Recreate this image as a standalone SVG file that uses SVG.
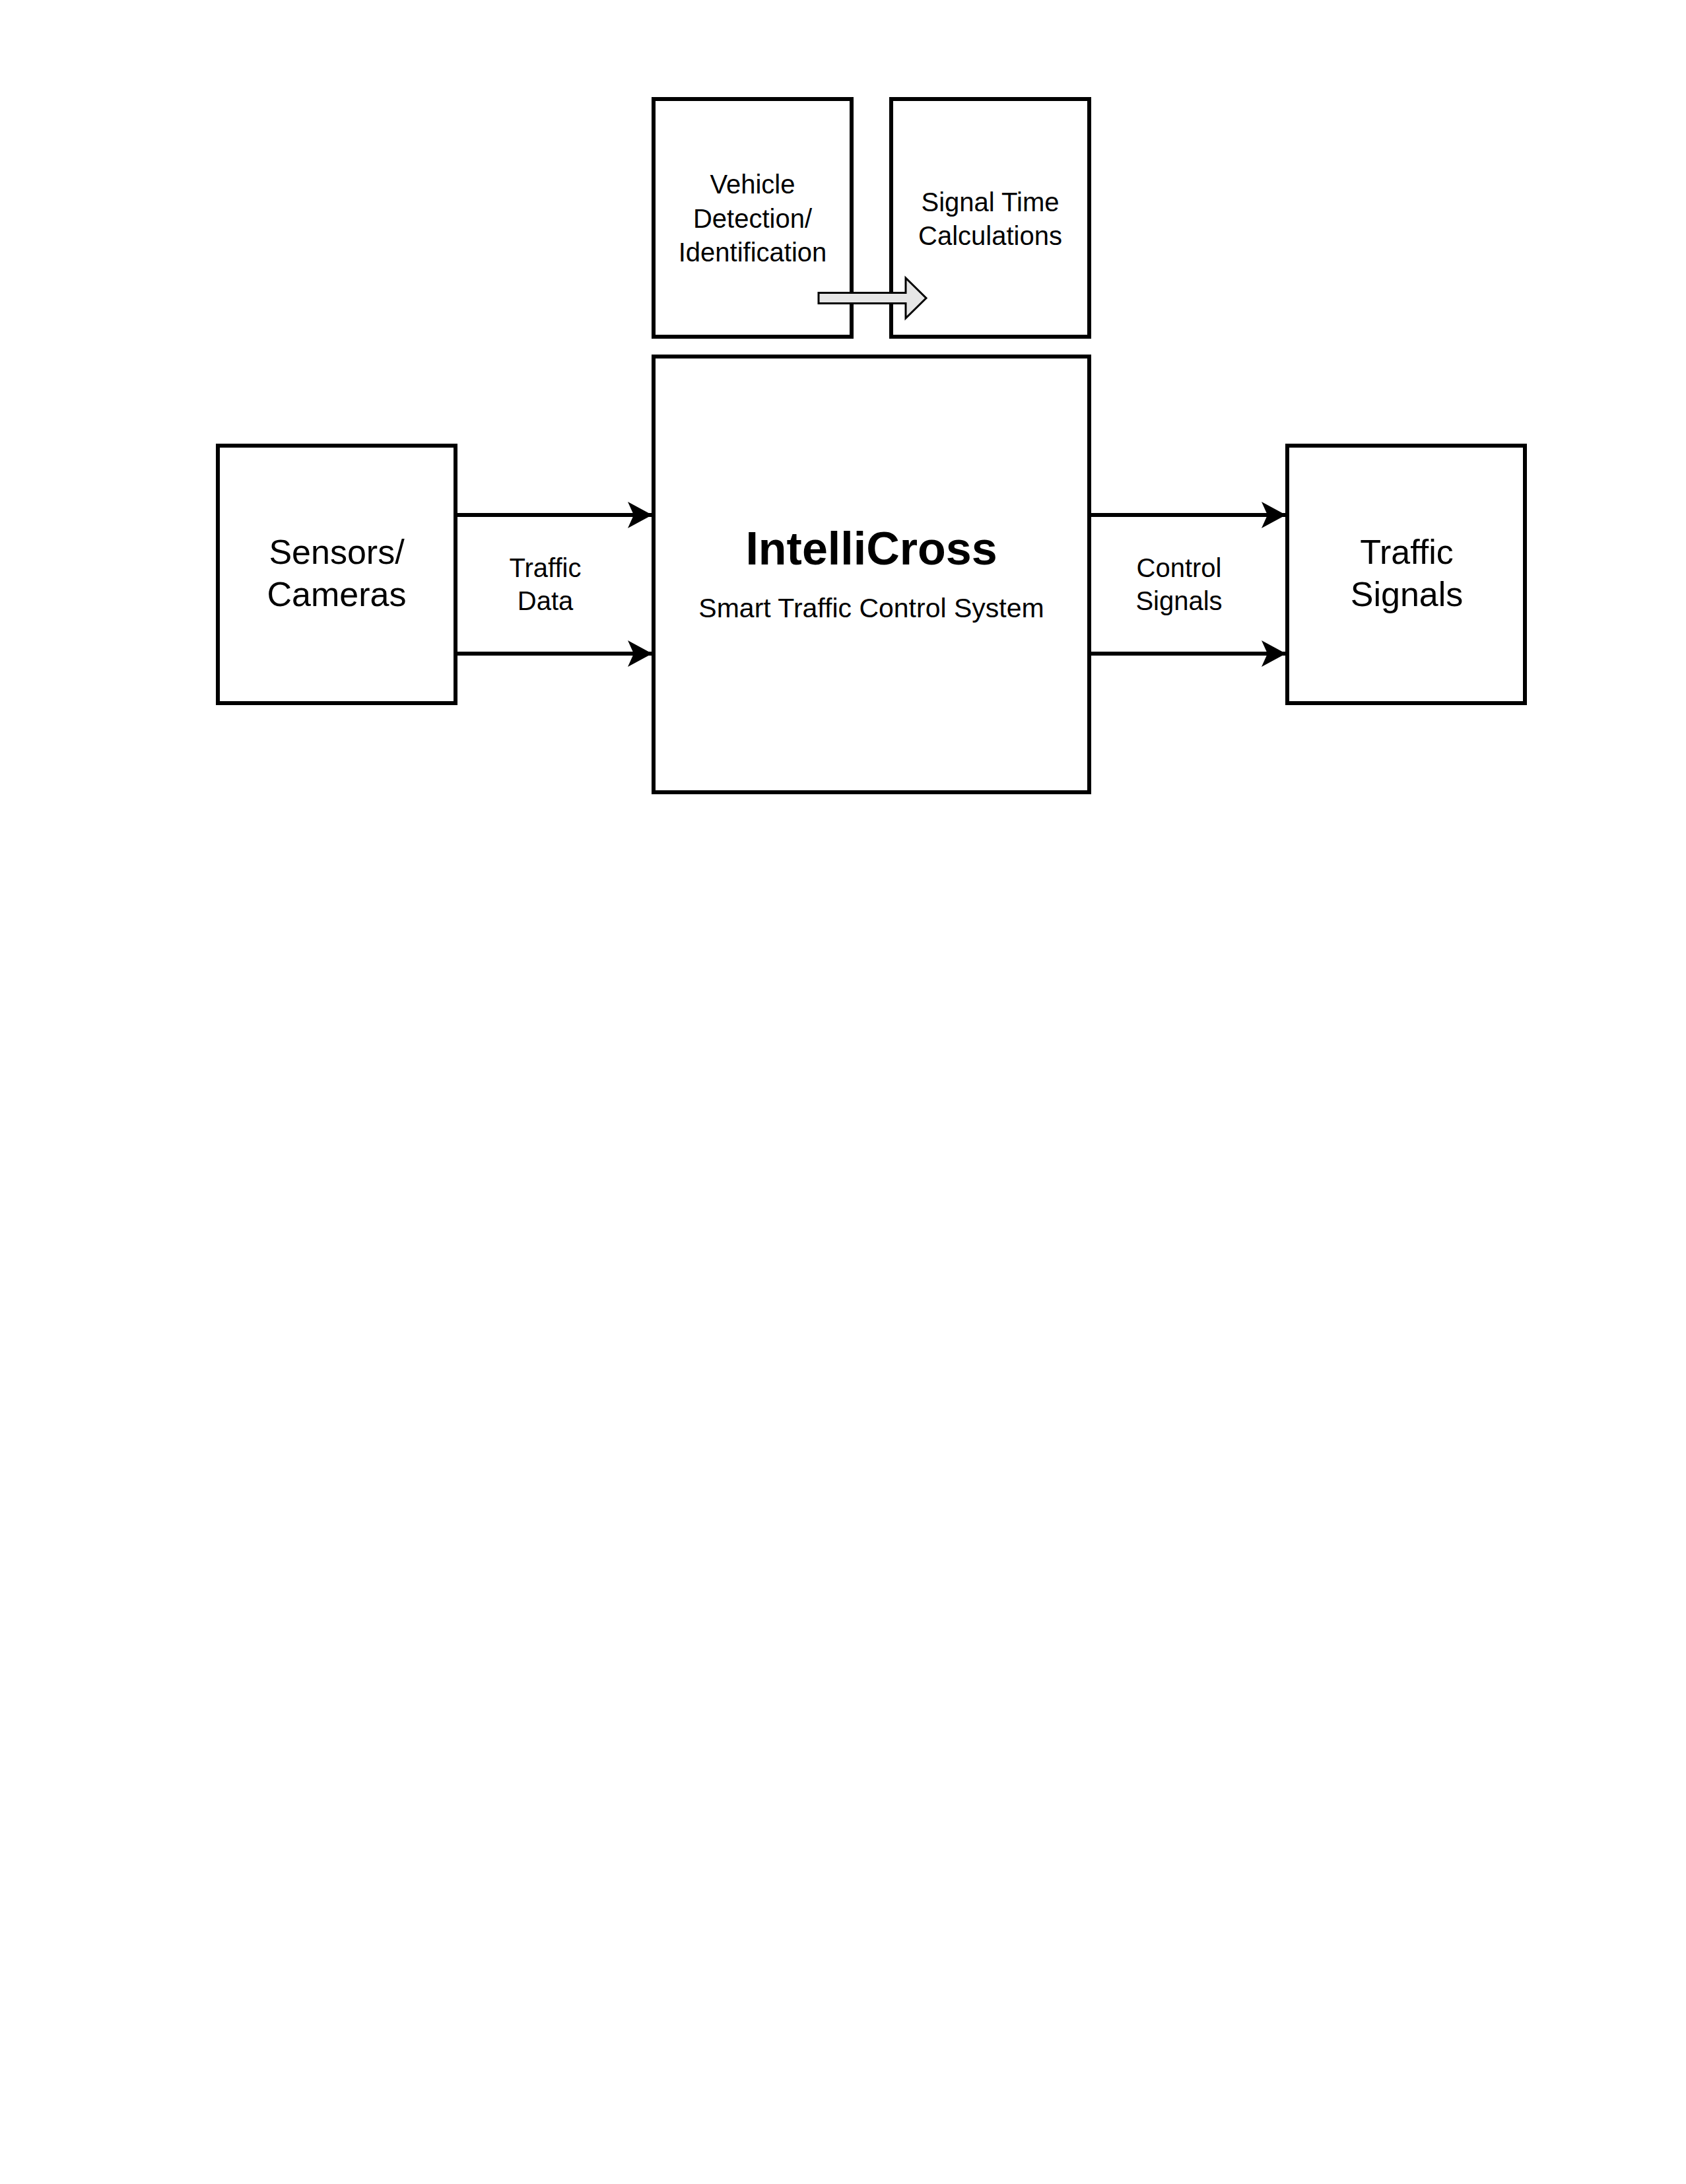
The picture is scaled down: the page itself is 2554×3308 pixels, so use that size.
<svg xmlns="http://www.w3.org/2000/svg" width="2554" height="3308" viewBox="0 0 2554 3308">
<style>
.box{fill:#ffffff;stroke:#000000;stroke-width:6}
.t{font-family:"Liberation Sans",Arial,sans-serif;fill:#000000;text-anchor:middle}
.big{font-size:52px}
.mid{font-size:40px}
.sub{font-size:41px}
.title{font-size:70px;font-weight:bold}
.conn{fill:none;stroke:#000000;stroke-width:6}
.flex{fill:#e6e6e6;stroke:#000000;stroke-width:3;stroke-linejoin:miter}
</style>
<defs>
<marker id="ah" markerUnits="userSpaceOnUse" viewBox="-40 -22 44 44" refX="0" refY="0" markerWidth="44" markerHeight="44" orient="auto">
<path d="M0,0 L-37,-20 L-28,0 L-37,20 Z" fill="#000000"/>
</marker>
</defs>
<rect width="2554" height="3308" fill="#ffffff"/>
<g id="node-vehicle-detection">
<rect class="box" x="990" y="150" width="300" height="360"/>
<text class="t mid" x="1140" y="293">Vehicle</text>
<text class="t mid" x="1140" y="345">Detection/</text>
<text class="t mid" x="1140" y="396">Identification</text>
</g>
<g id="node-signal-time">
<rect class="box" x="1350" y="150" width="300" height="360"/>
<text class="t mid" x="1500" y="320">Signal Time</text>
<text class="t mid" x="1500" y="371">Calculations</text>
</g>
<g id="node-intellicross">
<rect class="box" x="990" y="540" width="660" height="660"/>
<text class="t title" x="1320" y="855">IntelliCross</text>
<text class="t sub" x="1320" y="935">Smart Traffic Control System</text>
</g>
<g id="node-sensors">
<rect class="box" x="330" y="675" width="360" height="390"/>
<text class="t big" x="510" y="854">Sensors/</text>
<text class="t big" x="510" y="918">Cameras</text>
</g>
<g id="node-traffic-signals">
<rect class="box" x="1950" y="675" width="360" height="390"/>
<text class="t big" x="2131" y="854">Traffic</text>
<text class="t big" x="2131" y="918">Signals</text>
</g>
<g id="connectors">
<line class="conn" x1="690" y1="780" x2="988" y2="780" marker-end="url(#ah)"/>
<line class="conn" x1="690" y1="990" x2="988" y2="990" marker-end="url(#ah)"/>
<line class="conn" x1="1650" y1="780" x2="1948" y2="780" marker-end="url(#ah)"/>
<line class="conn" x1="1650" y1="990" x2="1948" y2="990" marker-end="url(#ah)"/>
<text class="t mid" x="826" y="874">Traffic</text>
<text class="t mid" x="826" y="924">Data</text>
<text class="t mid" x="1786" y="874">Control</text>
<text class="t mid" x="1786" y="924">Signals</text>
<polygon class="flex" points="1240,443.5 1372,443.5 1372,421 1403,451.5 1372,482 1372,459.5 1240,459.5"/>
</g>
</svg>
